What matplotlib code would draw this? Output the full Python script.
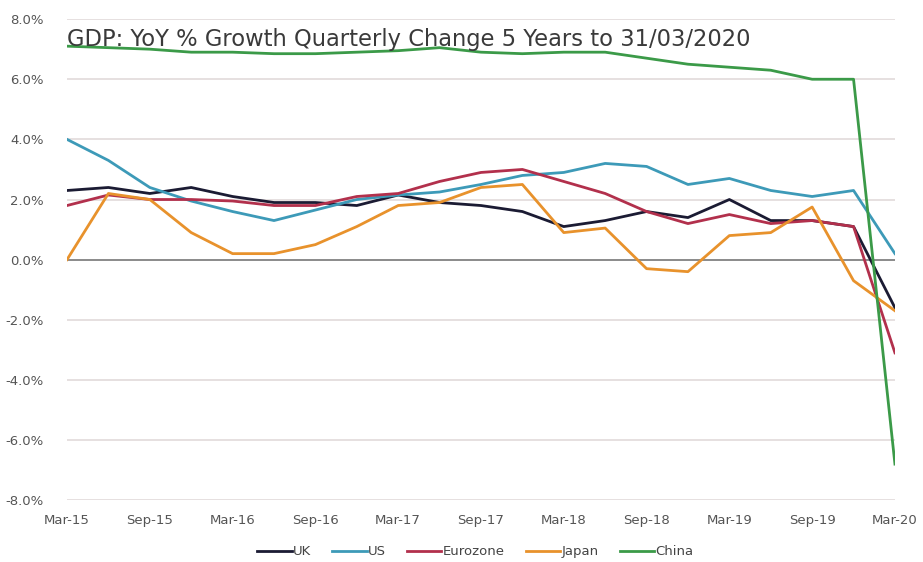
import matplotlib
matplotlib.use("Agg")
import matplotlib.pyplot as plt
import numpy as np

quarters = ["Mar-15", "Jun-15", "Sep-15", "Dec-15", "Mar-16", "Jun-16", "Sep-16", "Dec-16",
            "Mar-17", "Jun-17", "Sep-17", "Dec-17", "Mar-18", "Jun-18", "Sep-18", "Dec-18",
            "Mar-19", "Jun-19", "Sep-19", "Dec-19", "Mar-20"]

uk = [2.3, 2.4, 2.2, 2.4, 2.1, 1.9, 1.9, 1.8, 2.15, 1.9, 1.8, 1.6, 1.1, 1.3, 1.6, 1.4,
      2.0, 1.3, 1.3, 1.1, -1.6]
us = [4.0, 3.3, 2.4, 1.95, 1.6, 1.3, 1.65, 2.0, 2.15, 2.25, 2.5, 2.8, 2.9, 3.2, 3.1, 2.5,
      2.7, 2.3, 2.1, 2.3, 0.2]
eurozone = [1.8, 2.15, 2.0, 2.0, 1.95, 1.8, 1.8, 2.1, 2.2, 2.6, 2.9, 3.0, 2.6, 2.2, 1.6, 1.2,
            1.5, 1.2, 1.3, 1.1, -3.1]
japan = [0.0, 2.2, 2.0, 0.9, 0.2, 0.2, 0.5, 1.1, 1.8, 1.9, 2.4, 2.5, 0.9, 1.05, -0.3, -0.4,
         0.8, 0.9, 1.75, -0.7, -1.7]
china = [7.1, 7.05, 7.0, 6.9, 6.9, 6.85, 6.85, 6.9, 6.95, 7.05, 6.9, 6.85, 6.9, 6.9, 6.7, 6.5,
         6.4, 6.3, 6.0, 6.0, -6.8]

series = [("UK", uk, "#1b1b33"), ("US", us, "#3d9ab8"), ("Eurozone", eurozone, "#b2304c"),
          ("Japan", japan, "#e8922c"), ("China", china, "#3b9a48")]

yticks = [-8, -6, -4, -2, 0, 2, 4, 6, 8]
title = "GDP: YoY % Growth Quarterly Change 5 Years to 31/03/2020"

plt.rcParams['font.family'] = ['DejaVu Sans']
fig = plt.figure(figsize=(9.23, 5.62), dpi=100)
ax = fig.add_axes([0.0726, 0.110, 0.897, 0.856])

x = np.arange(len(quarters))
for yv in yticks:
    if yv == 0:
        ax.axhline(yv, color="#8a8a8a", lw=1.4, zorder=1)
    else:
        ax.axhline(yv, color="#e6e0e0", lw=1.4, zorder=1)

for name, vals, col in series:
    ax.plot(x, vals, color=col, lw=2.0, label=name, zorder=3, solid_joinstyle="round")

ax.set_xlim(0, len(quarters) - 1)
ax.set_ylim(-8, 8)
ax.set_xticks(x[::2])
ax.set_xticklabels(quarters[::2], fontsize=9.5, color="#555555")
ax.set_yticks(yticks)
ax.set_yticklabels([f"{v:.1f}%" for v in yticks], fontsize=9.5, color="#555555")
ax.tick_params(length=0, pad=10)
ax.tick_params(axis="y", pad=17)
for s in ax.spines.values():
    s.set_visible(False)

ax.text(0.0, 0.958, title, transform=ax.transAxes, fontsize=16.3, color="#3a3a3a",
        ha="left", va="center", zorder=4)

leg = fig.legend(loc="center", bbox_to_anchor=(0.515, 0.018), ncol=5, frameon=False,
                 fontsize=9.5, handlelength=2.6, handletextpad=0.1, columnspacing=1.6)
for t in leg.get_texts():
    t.set_color("#444444")

fig.savefig("out.png", dpi=100)
